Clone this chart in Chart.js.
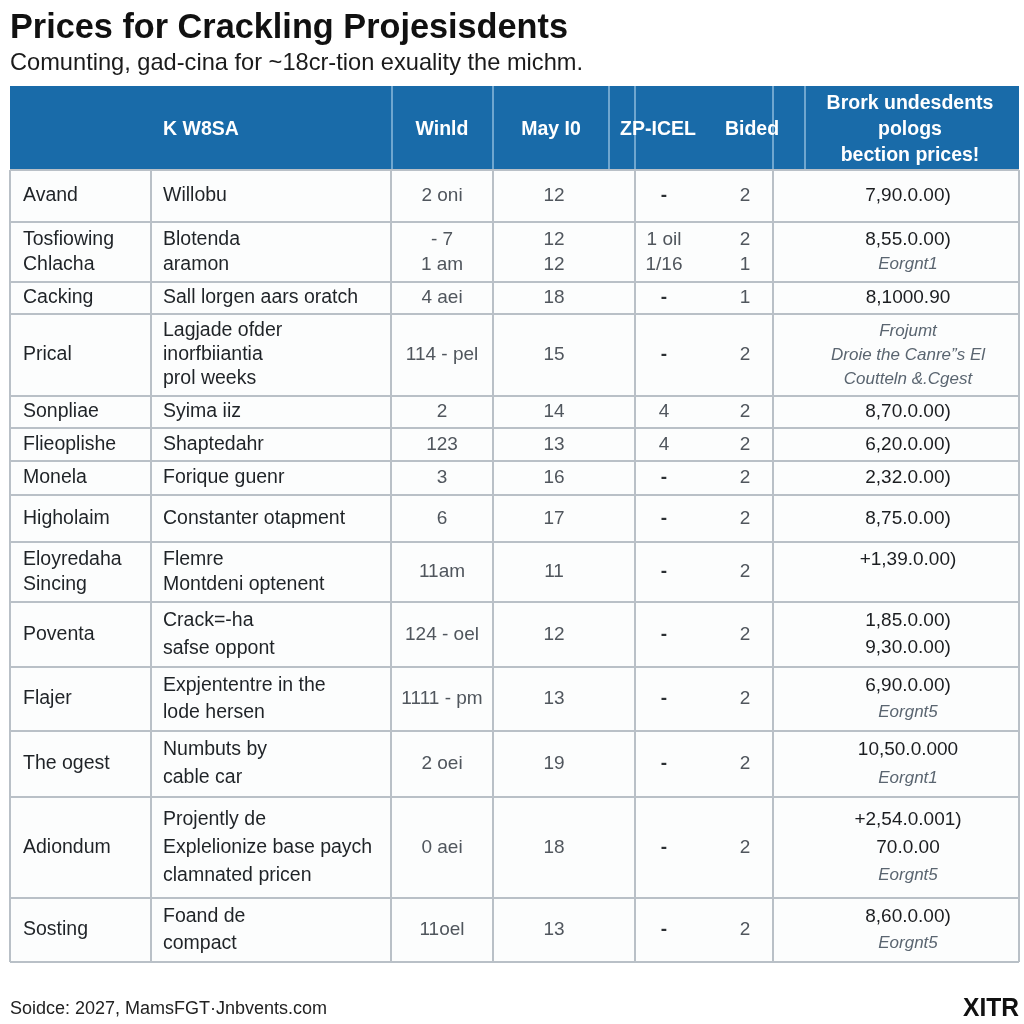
<!DOCTYPE html>
<html>
<head>
<meta charset="utf-8">
<script src="https://cdn.jsdelivr.net/npm/chart.js@4.4.1/dist/chart.umd.min.js"></script>
<style>
  html, body { margin: 0; padding: 0; background: #ffffff; }
  #wrap { width: 1024px; height: 1024px; }
</style>
</head>
<body>
<div id="wrap"><canvas id="myChart" width="1024" height="1024"></canvas></div>
<script>
// ---- text / values ----
var titleText = 'Prices for Crackling Projesisdents';
var subtitleText = 'Comunting, gad-cina for ~18cr-tion exuality the michm.';
var sourceText = 'Soidce: 2027, MamsFGT\u00b7Jnbvents.com';
var brandText = 'XITR';

var headers = ['K W8SA', 'Winld', 'May I0', 'ZP-ICEL', 'Bided', ['Brork undesdents', 'pologs', 'bection prices!']];

var names = [['Avand'], ['Tosfiowing', 'Chlacha'], ['Cacking'], ['Prical'], ['Sonpliae'], ['Flieoplishe'],
  ['Monela'], ['Higholaim'], ['Eloyredaha', 'Sincing'], ['Poventa'], ['Flajer'], ['The ogest'], ['Adiondum'], ['Sosting']];

var descs = [['Willobu'], ['Blotenda', 'aramon'], ['Sall lorgen aars oratch'], ['Lagjade ofder', 'inorfbiiantia', 'prol weeks'],
  ['Syima iiz'], ['Shaptedahr'], ['Forique guenr'], ['Constanter otapment'], ['Flemre', 'Montdeni optenent'],
  ['Crack=-ha', 'safse oppont'], ['Expjententre in the', 'lode hersen'], ['Numbuts by', 'cable car'],
  ['Projently de', 'Explelionize base paych', 'clamnated pricen'], ['Foand de', 'compact']];

var winld = [['2 oni'], ['- 7', '1 am'], ['4 aei'], ['114 - pel'], ['2'], ['123'], ['3'], ['6'], ['11am'],
  ['124 - oel'], ['1111 - pm'], ['2 oei'], ['0 aei'], ['11oel']];

var mayIO = [['12'], ['12', '12'], ['18'], ['15'], ['14'], ['13'], ['16'], ['17'], ['11'], ['12'], ['13'], ['19'], ['18'], ['13']];

var zpIcel = [['-'], ['1 oil', '1/16'], ['-'], ['-'], ['4'], ['4'], ['-'], ['-'], ['-'], ['-'], ['-'], ['-'], ['-'], ['-']];

var bided = [['2'], ['2', '1'], ['1'], ['2'], ['2'], ['2'], ['2'], ['2'], ['2'], ['2'], ['2'], ['2'], ['2'], ['2']];

var prices = [['7,90.0.00)'], ['8,55.0.00)', 'Eorgnt1'], ['8,1000.90'], ['Frojumt', 'Droie the Canre\u201ds El', 'Coutteln &.Cgest'],
  ['8,70.0.00)'], ['6,20.0.00)'], ['2,32.0.00)'], ['8,75.0.00)'], ['+1,39.0.00)', ''], ['1,85.0.00)', '9,30.0.00)'],
  ['6,90.0.00)', 'Eorgnt5'], ['10,50.0.000', 'Eorgnt1'], ['+2,54.0.001)', '70.0.00', 'Eorgnt5'], ['8,60.0.00)', 'Eorgnt5']];

// ---- layout (sizes/positions, not data) ----
var tableLeft = 10, tableRight = 1019, headTop = 86, bodyTop = 170;
var rowHeights = [52, 60, 32, 82, 32, 33, 34, 47, 60, 65, 64, 66, 101, 64];
var bodyLines = [151, 391, 493, 635, 773];
var headLines = [392, 493, 609, 635, 773, 805];
var headCenters = [201, 442, 551, 658, 752, 910];

var rowEdges = [bodyTop];
rowHeights.forEach(function (h, i) { rowEdges.push(rowEdges[i] + h); });
var rowMid = rowHeights.map(function (h, i) { return rowEdges[i] + h / 2; });

var F = '"Liberation Sans", Arial, sans-serif';
var columns = [
  { cells: names, x: 23, align: 'left', font: '19.5px ' + F, color: '#1f2327' },
  { cells: descs, x: 163, align: 'left', font: '19.5px ' + F, color: '#1f2327' },
  { cells: winld, x: 442, align: 'center', font: '19px ' + F, color: '#50565d' },
  { cells: mayIO, x: 554, align: 'center', font: '19px ' + F, color: '#50565d' },
  { cells: zpIcel, x: 664, align: 'center', font: '19px ' + F, color: '#50565d' },
  { cells: bided, x: 745, align: 'center', font: '19px ' + F, color: '#50565d' },
  { cells: prices, x: 908, align: 'center', font: '19px ' + F, color: '#1b1d20' }
];

function lineGap(i, n) { return Math.min(28, (rowHeights[i] - 10) / n); }

var tablePlugin = {
  id: 'tableCells',
  beforeDatasetsDraw: function (chart) {
    var ctx = chart.ctx, sx = chart.scales.x, sy = chart.scales.y;
    var L = sx.getPixelForValue(tableLeft), R = sx.getPixelForValue(tableRight);
    var top = sy.getPixelForValue(bodyTop), bot = sy.getPixelForValue(rowEdges[rowEdges.length - 1]);
    ctx.save();
    // body background
    ctx.fillStyle = '#fcfdfd';
    ctx.fillRect(L, top, R - L, bot - top);
    // header
    var ht = sy.getPixelForValue(headTop);
    ctx.fillStyle = '#196ba9';
    ctx.fillRect(L, ht, R - L, top - ht);
    ctx.strokeStyle = '#8dbadd';
    ctx.lineWidth = 1.5;
    headLines.forEach(function (v) {
      var x = sx.getPixelForValue(v);
      ctx.beginPath(); ctx.moveTo(x, ht); ctx.lineTo(x, top); ctx.stroke();
    });
    // grid
    ctx.strokeStyle = '#b9c0c7';
    ctx.lineWidth = 2;
    rowEdges.forEach(function (v) {
      var y = sy.getPixelForValue(v);
      ctx.beginPath(); ctx.moveTo(L, y); ctx.lineTo(R, y); ctx.stroke();
    });
    bodyLines.concat([tableLeft, tableRight]).forEach(function (v) {
      var x = sx.getPixelForValue(v);
      ctx.beginPath(); ctx.moveTo(x, top); ctx.lineTo(x, bot); ctx.stroke();
    });
    // header text
    ctx.fillStyle = '#ffffff';
    ctx.font = 'bold 19.5px ' + F;
    ctx.textAlign = 'center';
    ctx.textBaseline = 'middle';
    headers.forEach(function (h, i) {
      var ls = Array.isArray(h) ? h : [h];
      var cy = (ht + top) / 2 + 2;
      ls.forEach(function (t, k) {
        ctx.fillText(t, sx.getPixelForValue(headCenters[i]), cy + (k - (ls.length - 1) / 2) * 26);
      });
    });
    ctx.restore();
  },
  afterDatasetsDraw: function (chart) {
    var ctx = chart.ctx;
    ctx.save();
    ctx.textBaseline = 'middle';
    chart.data.datasets.forEach(function (ds, di) {
      var col = columns[di];
      chart.getDatasetMeta(di).data.forEach(function (pt, i) {
        var ls = col.cells[i];
        var gap = lineGap(i, ls.length);
        ctx.textAlign = col.align;
        ls.forEach(function (t, k) {
          var y = pt.y + (k - (ls.length - 1) / 2) * gap;
          ctx.font = col.font;
          ctx.fillStyle = col.color;
          if (di === 6 && !/^[+\d]/.test(t)) {
            ctx.font = 'italic 17px ' + F;
            ctx.fillStyle = '#5a6570';
          }
          if (t === '-') { ctx.font = 'bold 19px ' + F; ctx.fillStyle = '#2b2f33'; }
          ctx.fillText(t, pt.x, y);
        });
      });
    });
    // titles and footer
    ctx.textAlign = 'left';
    ctx.textBaseline = 'alphabetic';
    ctx.fillStyle = '#111111';
    ctx.font = 'bold 35px ' + F;
    ctx.fillText(titleText, 10, 38, 558);
    ctx.font = '24px ' + F;
    ctx.fillStyle = '#1b1b1b';
    ctx.fillText(subtitleText, 10, 70, 573);
    ctx.font = '18px ' + F;
    ctx.fillStyle = '#222222';
    ctx.fillText(sourceText, 10, 1014, 324);
    ctx.textAlign = 'right';
    ctx.font = 'bold 25px ' + F;
    ctx.fillStyle = '#111111';
    ctx.fillText(brandText, 1019, 1016, 56);
    ctx.restore();
  }
};

var datasets = columns.map(function (col, ci) {
  return {
    label: 'col' + ci,
    data: col.cells.map(function (c, i) { return { x: col.x, y: rowMid[i] }; }),
    pointRadius: 0,
    showLine: false
  };
});

new Chart('myChart', {
  type: 'scatter',
  data: { datasets: datasets },
  options: {
    responsive: false,
    animation: false,
    layout: { padding: 0 },
    scales: {
      x: { type: 'linear', min: 0, max: 1024, display: false },
      y: { type: 'linear', min: 0, max: 1024, reverse: true, display: false }
    },
    plugins: { legend: { display: false }, tooltip: { enabled: false } }
  },
  plugins: [tablePlugin]
});
</script>
</body>
</html>
